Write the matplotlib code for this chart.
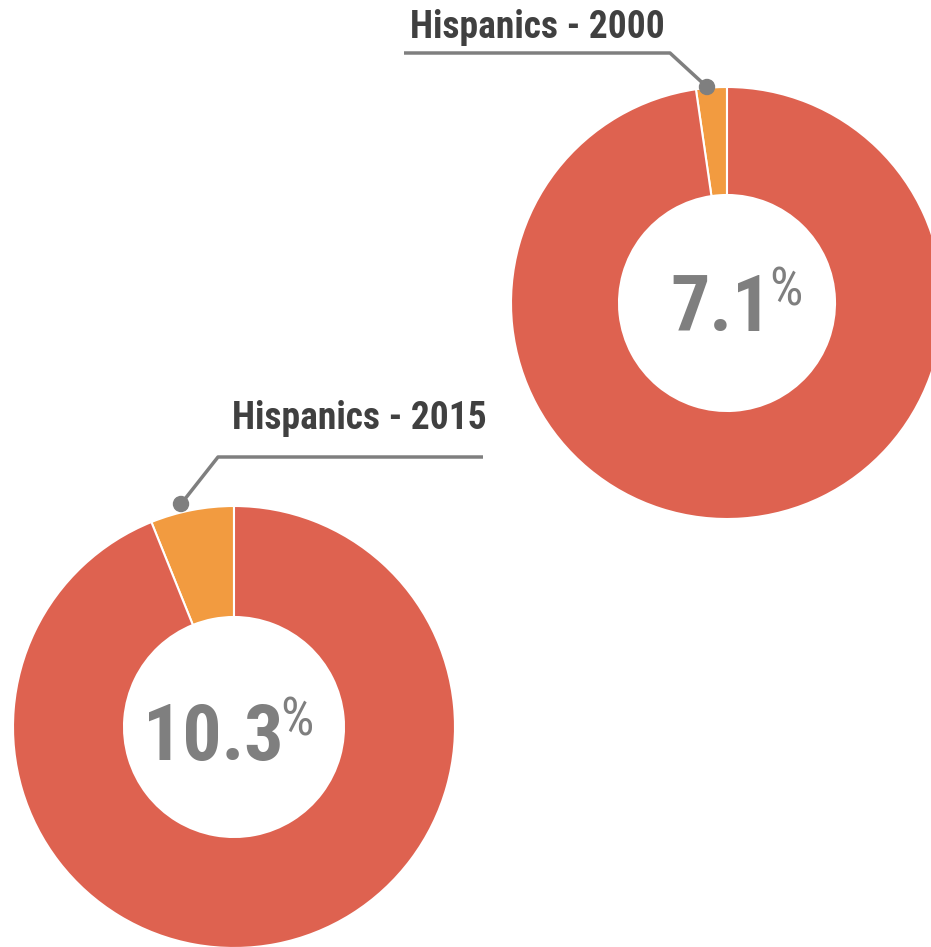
import matplotlib
matplotlib.use("Agg")
import matplotlib.pyplot as plt
from matplotlib import font_manager
from matplotlib.font_manager import FontProperties
from matplotlib.patches import Circle

# ---- data ----
labels = ["Hispanics - 2000", "Hispanics - 2015"]
center_texts = ["7.1", "10.3"]
orange_share = [2.3, 6.1]          # visual wedge sizes (%)
other_share = [100 - v for v in orange_share]

# ---- fonts: look for a condensed / narrow face ----
def find_face(bold):
    best = None
    for f in font_manager.fontManager.ttflist:
        nm = f.name.lower()
        path = f.fname.lower()
        cond = ("narrow" in nm or "condensed" in nm or "narrow" in path or "condensed" in path
                or str(f.stretch).lower() in ("condensed", "semi-condensed", "extra-condensed"))
        if not cond:
            continue
        w = f.weight if isinstance(f.weight, int) else (700 if "bold" in str(f.weight).lower() else 400)
        isbold = w >= 600 or "bold" in path
        if bold != isbold:
            continue
        if "oblique" in path or "italic" in path:
            continue
        score = 0
        if "liberation" in nm or "liberation" in path:
            score = 3
        elif "roboto" in nm or "roboto" in path:
            score = 2
        elif "dejavu" in nm or "dejavu" in path:
            score = 1
        if best is None or score > best[0]:
            best = (score, f.fname)
    return best[1] if best else None

bold_file = find_face(True)
reg_file = find_face(False)
if bold_file:
    FP_BOLD = lambda size: FontProperties(fname=bold_file, size=size)
    condensed = True
else:
    FP_BOLD = lambda size: FontProperties(family="Liberation Sans", weight="bold", size=size)
    condensed = False
if reg_file:
    FP_REG = lambda size: FontProperties(fname=reg_file, size=size)
else:
    FP_REG = lambda size: FontProperties(family="Liberation Sans", weight="normal", size=size)

W, H = 931, 947
fig = plt.figure(figsize=(W / 100, H / 100), dpi=100)
ax = fig.add_axes([0, 0, 1, 1])

def Y(y):
    return H - y

RED = "#DE6250"
ORANGE = "#F29B40"
GRAY = "#7F7F7F"
DARK = "#404040"

donuts = [
    dict(cx=727, cy=303, r=216, w=108, label_x=(410, 665), label_base=38,
         line=[(404, 53), (670, 53), (707, 87)], dot=(707, 87),
         group_cx=738, num_base=331, pct_base=305),
    dict(cx=234, cy=727, r=221, w=111, label_x=(232, 483), label_base=429,
         line=[(483, 457), (218, 457), (181, 504)], dot=(181, 504),
         group_cx=230, num_base=760, pct_base=735),
]

for i, d in enumerate(donuts):
    ax.pie([orange_share[i], other_share[i]], colors=[ORANGE, RED], startangle=90,
           counterclock=True, center=(d["cx"], Y(d["cy"])), radius=d["r"],
           wedgeprops=dict(width=d["w"], edgecolor="white", linewidth=1.5), frame=True)
    xs = [p[0] for p in d["line"]]
    ys = [Y(p[1]) for p in d["line"]]
    ax.plot(xs, ys, color=GRAY, lw=2.5, solid_capstyle="butt", zorder=5)
    ax.add_patch(Circle((d["dot"][0], Y(d["dot"][1])), 7.5, color=GRAY, zorder=6))

ax.set_xlim(0, W)
ax.set_ylim(0, H)
ax.set_aspect("equal")
ax.axis("off")

lab_size = 27 if condensed else 23
num_size = 56 if condensed else 50
pct_size = 38 if condensed else 30

texts = []
for i, d in enumerate(donuts):
    t = ax.text(d["label_x"][0], Y(d["label_base"]), labels[i], fontproperties=FP_BOLD(lab_size),
                color=DARK, ha="left", va="baseline")
    n = ax.text(0, Y(d["num_base"]), center_texts[i], fontproperties=FP_BOLD(num_size),
                color=GRAY, ha="left", va="baseline")
    p = ax.text(0, Y(d["pct_base"]), "%", fontproperties=FP_REG(pct_size),
                color=GRAY, ha="left", va="baseline")
    texts.append((d, n, p))

fig.canvas.draw()
r = fig.canvas.get_renderer()
for d, n, p in texts:
    wn = n.get_window_extent(r).width
    wp = p.get_window_extent(r).width
    total = wn + wp
    x0 = d["group_cx"] - total / 2
    n.set_x(x0)
    p.set_x(x0 + wn - 3)

fig.savefig("out.png", dpi=100)
